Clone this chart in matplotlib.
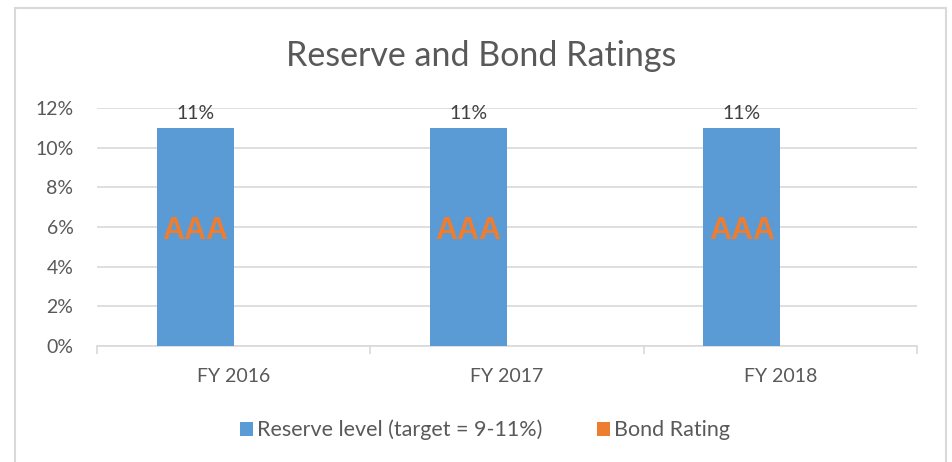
import matplotlib.pyplot as plt
import numpy as np
from matplotlib.patches import Rectangle

categories = ["FY 2016", "FY 2017", "FY 2018"]
reserve = [11, 11, 11]
bond = [0, 0, 0]
ratings = ["AAA", "AAA", "AAA"]
rating_pos = [5.8, 5.8, 5.8]
yticks = [0, 2, 4, 6, 8, 10, 12]

plt.rcParams['font.family'] = ['Lato', 'DejaVu Sans']
txt = '#595959'
grid = '#D9D9D9'
blue = '#5B9BD5'
orange = '#ED7D31'

W, H = 953, 462
fig = plt.figure(figsize=(W / 100, H / 100), dpi=100)
# axes from pixel positions
ax = fig.add_axes([97 / W, 1 - 346 / H, (917 - 97) / W, (346 - 108) / H])

x = np.arange(len(categories))
w = 0.282
ax.bar(x - w / 2, reserve, w, color=blue, label='Reserve level (target = 9-11%)', zorder=3)
ax.bar(x + w / 2, bond, w, color=orange, label='Bond Rating', zorder=3)

for i, v in enumerate(reserve):
    ax.text(x[i] - w / 2, v + 0.3, f"{v}%", ha='center', va='bottom', fontsize=14, color='#404040')
    ax.text(x[i] - w / 2, rating_pos[i], ratings[i], ha='center', va='center',
            fontsize=22, fontweight='bold', family='Liberation Sans', color=orange, zorder=4)

ax.set_xlim(-0.5, 2.5)
ax.set_ylim(0, 12)
ax.set_yticks(yticks)
ax.set_yticklabels([f"{t}%" for t in yticks])
ax.grid(axis='y', color=grid, linewidth=1.2, zorder=0)
ax.set_xticks(x)
ax.set_xticklabels(categories)
ax.set_xticks([-0.5, 0.5, 1.5, 2.5], minor=True)
ax.tick_params(axis='x', which='major', length=0, pad=16, labelsize=14, labelcolor=txt)
ax.tick_params(axis='x', which='minor', length=6, width=1.2, color=grid)
ax.tick_params(axis='y', length=0, pad=17, labelsize=14, labelcolor=txt)
for s in ['top', 'right', 'left']:
    ax.spines[s].set_visible(False)
ax.spines['bottom'].set_color(grid)
ax.spines['bottom'].set_linewidth(1.2)

fig.text(481 / W, 1 - 56 / H, "Reserve and Bond Ratings", ha='center', va='center',
         fontsize=24.5, color=txt)

fig.legend(loc='center', bbox_to_anchor=(485 / W, 1 - 430 / H), ncol=2, frameon=False,
           fontsize=15.5, labelcolor=txt, handlelength=0.6, handleheight=0.6,
           handletextpad=0.2, columnspacing=2.5)

# outer chart border (bottom edge cut off)
fig.patches.append(Rectangle((15.5 / W, -0.1), (946 - 15.5) / W, 1.1 - 8.5 / H,
                             transform=fig.transFigure, fill=False, edgecolor=grid, linewidth=1.5))

fig.savefig('out.png', dpi=100)
